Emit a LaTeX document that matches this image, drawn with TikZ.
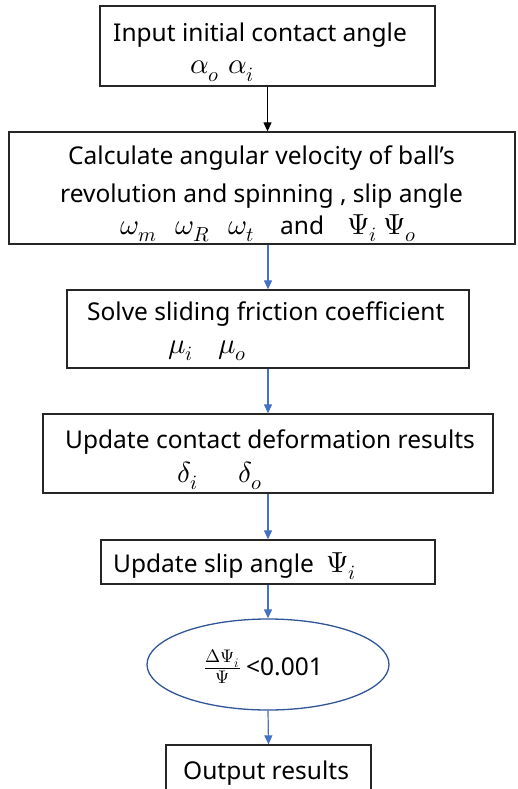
\documentclass[tikz,border=0pt]{standalone}
\usepackage{fontspec}
\usepackage{unicode-math}
\setmainfont{Noto Sans}
\setmathfont{Latin Modern Math}
\usetikzlibrary{shapes.geometric,arrows.meta}
\definecolor{boxline}{HTML}{262626}
\definecolor{arrblue}{HTML}{4472C4}
\definecolor{ellblue}{HTML}{2F5597}
\newcommand\mymath[1]{{\fontsize{29}{29}\selectfont$#1$}}
\newcommand\myfrac[1]{{\fontsize{26}{26}\selectfont$#1$}}
\begin{document}
\begin{tikzpicture}[x=1pt,y=-1pt,
  box/.style={draw=boxline, line width=1.3pt, inner sep=0pt},
  txt/.style={inner sep=0pt, anchor=base west, font=\fontsize{24.5}{30}\selectfont},
  arr/.style={-{Triangle[width=8pt,length=9pt]}, line width=1.2pt, draw=arrblue, fill=arrblue},
  blackarr/.style={-{Triangle[width=8pt,length=9pt]}, line width=1.2pt, draw=black, fill=black}]
\useasboundingbox (0,0) rectangle (517,789);
% boxes
\node[box, minimum width=335pt, minimum height=80pt] (b1) at (267.5,46) {};
\node[box, minimum width=506pt, minimum height=112pt] (b2) at (262,188) {};
\node[box, minimum width=402pt, minimum height=78pt] (b3) at (268,329) {};
\node[box, minimum width=450pt, minimum height=79pt] (b4) at (268,453.5) {};
\node[box, minimum width=334pt, minimum height=44pt] (b5) at (268,562) {};
\node[ellipse, draw=ellblue, line width=1.3pt, minimum width=242pt, minimum height=91pt,
  inner sep=0pt] (e) at (268,664.5) {};
\node[box, minimum width=205pt, minimum height=50pt] (b6) at (268.5,770) {};
% texts
\node[txt] (t1a) at (113,42) {Input initial contact angle};
\node[txt] (t1b) at (190,74) {\makebox[38pt][l]{\mymath{\alpha_o}}\mymath{\alpha_i}};
\node[txt] (t2a) at (68,164) {Calculate angular velocity of ball’s};
\node[txt] (t2b) at (60,202) {revolution and spinning , slip angle};
\node[txt] (t2c) at (120,234) {\makebox[55pt][l]{\mymath{\omega_m}}\makebox[53pt][l]{\mymath{\omega_R}}\makebox[52pt][l]{\mymath{\omega_t}}\makebox[67pt][l]{and}\makebox[36pt][l]{\mymath{\Psi_i}}\mymath{\Psi_o}};
\node[txt] (t3a) at (87,320) {Solve sliding friction coefficient};
\node[txt] (t3b) at (168,353) {\makebox[50pt][l]{\mymath{\mu_i}}\mymath{\mu_o}};
\node[txt] (t4a) at (65,448) {Update contact deformation results};
\node[txt] (t4b) at (177,482) {\makebox[61pt][l]{\mymath{\delta_i}}\mymath{\delta_o}};
\node[txt] (t5) at (113,572) {\makebox[213pt][l]{Update slip angle}\mymath{\Psi_i}};
\node[txt] (te) at (204,675) {\makebox[42pt][l]{\myfrac{\frac{\Delta\Psi_i}{\Psi}}}<0.001};
\node[txt] (t6) at (183,779) {Output results};
% arrows
\draw[blackarr] (b1.south) -- (b1.south |- b2.north);
\draw[arr] (b3.north |- b2.south) -- (b3.north);
\draw[arr] (b3.south) -- (b4.north);
\draw[arr] (b4.south) -- (b5.north);
\draw[arr] (b5.south) -- (e.north);
\draw[arr] (e.south) -- (b6.north);
\end{tikzpicture}
\end{document}
